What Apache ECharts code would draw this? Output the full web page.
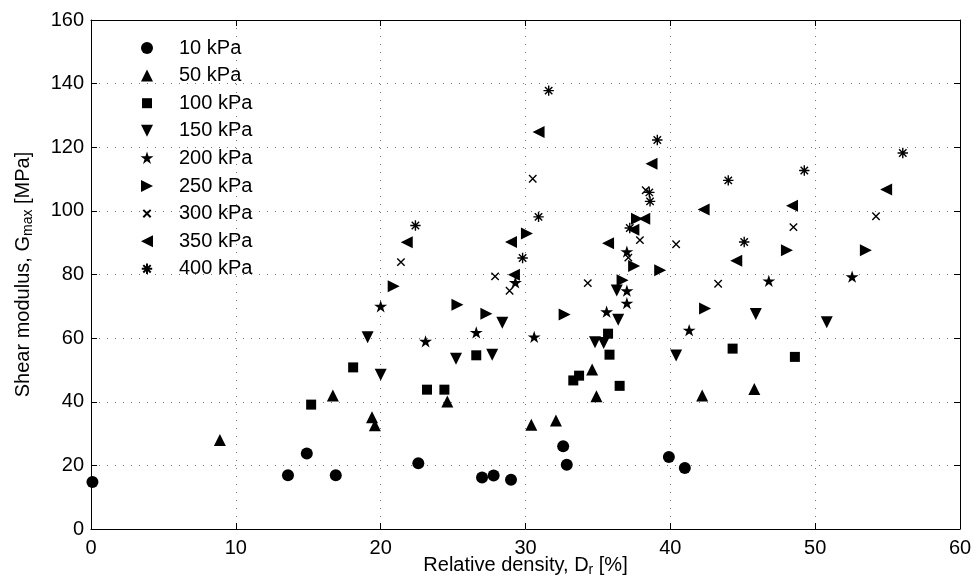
<!DOCTYPE html>
<html><head><meta charset="utf-8">
<script src="https://cdn.jsdelivr.net/npm/echarts/dist/echarts.min.js"></script>
<style>html,body{margin:0;padding:0;background:#fff}#c{width:973px;height:586px}</style>
</head><body><div id="c"></div>
<script>
// ---- data ----
const xRange = [0, 60];
const yRange = [0, 160];
const xStep = 10;
const yStep = 20;
const xTitle = 'Relative density, D{sub|r} [%]';
const yTitle = 'Shear modulus, G{sub|max} [MPa]';
const names = ['10 kPa','50 kPa','100 kPa','150 kPa','200 kPa','250 kPa','300 kPa','350 kPa','400 kPa'];

const p10 = [[0.1,14.8],[13.6,16.9],[14.9,23.7],[16.9,16.9],[22.6,20.7],[27.0,16.2],[27.8,16.8],[29.0,15.5],[32.6,26.0],[32.85,20.2],[39.9,22.6],[41.0,19.2]];
const p50 = [[8.9,28.0],[16.7,42.0],[19.4,35.1],[19.6,32.6],[24.6,40.1],[30.4,32.8],[32.1,34.1],[34.6,50.1],[34.9,41.7],[42.2,42.0],[45.8,44.0]];
const p100 = [[15.2,39.1],[18.1,50.8],[23.2,43.8],[24.4,43.8],[26.6,54.6],[33.3,46.7],[33.7,48.2],[35.7,61.4],[35.8,54.8],[36.5,45.0],[44.3,56.7],[48.6,54.1]];
const p150 = [[19.1,60.3],[20.0,48.5],[25.2,53.5],[27.7,54.8],[28.4,64.8],[34.8,58.7],[35.4,58.5],[36.3,75.0],[36.4,65.8],[40.4,54.5],[45.9,67.6],[50.8,65.0]];
const p200 = [[20.0,69.8],[23.1,58.8],[26.6,61.6],[29.3,77.3],[30.6,60.2],[35.6,68.1],[37.0,74.7],[37.0,70.8],[37.0,87.0],[41.3,62.3],[46.8,77.8],[52.55,79.1]];
const p250 = [[20.9,76.3],[25.3,70.5],[27.3,67.7],[30.1,92.9],[32.7,67.4],[36.7,78.2],[37.5,82.7],[37.7,97.5],[39.3,81.3],[42.4,69.3],[48.05,87.6],[53.5,87.6]];
const p300 = [[21.4,83.9],[27.9,79.4],[28.9,74.9],[30.5,110.1],[34.3,77.3],[37.1,85.3],[37.9,90.8],[38.3,106.5],[40.4,89.5],[43.3,77.1],[48.5,94.9],[54.2,98.3]];
const p350 = [[21.8,90.1],[29.0,90.2],[29.2,79.9],[30.9,124.8],[35.7,89.8],[37.45,94.1],[38.2,97.5],[38.7,114.8],[42.3,100.4],[44.55,84.3],[48.4,101.6],[54.9,106.7]];
const p400 = [[22.4,95.4],[29.8,85.2],[30.9,98.1],[31.6,137.8],[37.2,94.6],[38.55,105.8],[38.6,103.0],[39.1,122.3],[44.0,109.6],[45.1,90.2],[49.25,112.7],[56.05,118.2]];
const allData = [p10,p50,p100,p150,p200,p250,p300,p350,p400];

// ---- marker shapes (drawn in a common 14x14 frame so legend and plot match) ----
const FONT = '"Liberation Sans", Arial, Helvetica, sans-serif';
const FS = 20;
const FRAME = 'M0,0M14,14';
const SHAPES = [
  'M1,7A6,6,0,1,1,13,7A6,6,0,1,1,1,7Z',                 // circle
  'M7,1L13,13L1,13Z',                                    // triangle up
  'M2,2L12,2L12,12L2,12Z',                               // square
  'M1,1L13,1L7,13Z',                                     // triangle down
  'M7,0.2L8.53,4.9L13.47,4.9L9.47,7.8L11,12.5L7,9.6L3,12.5L4.53,7.8L0.53,4.9L5.47,4.9Z', // pentagram
  'M1,1L13,7L1,13Z',                                     // triangle right
  'M3.3,3.3L10.7,10.7M10.7,3.3L3.3,10.7',                // x
  'M13,1L13,13L1,7Z',                                    // triangle left
  'M7,1.8L7,12.2M1.8,7L12.2,7M3.3,3.3L10.7,10.7M10.7,3.3L3.3,10.7' // asterisk
];
const STROKED = [false,false,false,false,false,false,true,false,true];

const series = names.map((n,i) => ({
  name: n,
  type: 'scatter',
  data: allData[i],
  symbol: 'path://' + FRAME + SHAPES[i],
  symbolSize: 14,
  itemStyle: STROKED[i] ? {color:'#000', borderColor:'#000', borderWidth:1.4, opacity:1} : {color:'#000', borderWidth:0, opacity:1},
  emphasis: {disabled:true},
  xAxisIndex: 0, yAxisIndex: 0
}));

const axisCommon = {
  type:'value',
  axisLine:{show:true, onZero:false, lineStyle:{color:'#000', width:1}},
  axisTick:{show:true, inside:true, length:6, lineStyle:{color:'#000', width:1}},
};
const nameStyle = {color:'#000', fontSize:FS, fontFamily:FONT, rich:{sub:{fontSize:14, fontFamily:FONT, color:'#000', padding:[9,0,0,0]}}};

const chart = echarts.init(document.getElementById('c'), null, {renderer:'canvas'});
chart.setOption({
  animation:false,
  backgroundColor:'#fff',
  grid:{left:91, right:13, top:20, bottom:57, containLabel:false, outerBoundsMode:'none'},
  legend:{
    orient:'vertical', left:134, top:33, itemWidth:14, itemHeight:14, itemGap:7.6,
    data:names, selectedMode:false,
    textStyle:{color:'#000', fontSize:FS, fontFamily:FONT, padding:[0,0,0,20]}
  },
  xAxis:[
    Object.assign({}, axisCommon, {
      min:xRange[0], max:xRange[1], interval:xStep, position:'bottom',
      axisLabel:{color:'#000', fontSize:FS, fontFamily:FONT, margin:9},
      splitLine:{show:true, lineStyle:{type:[1,7], color:'#777', width:1}},
      name:xTitle, nameLocation:'middle', nameGap:25, nameMoveOverlap:false,
      nameTextStyle:nameStyle
    }),
    Object.assign({}, axisCommon, {
      min:xRange[0], max:xRange[1], interval:xStep, position:'top',
      axisLabel:{show:false}, splitLine:{show:false}
    })
  ],
  yAxis:[
    Object.assign({}, axisCommon, {
      min:yRange[0], max:yRange[1], interval:yStep, position:'left',
      axisLabel:{color:'#000', fontSize:FS, fontFamily:FONT, margin:7},
      splitLine:{show:true, lineStyle:{type:[1,7], color:'#777', width:1}},
      name:yTitle, nameLocation:'middle', nameGap:56, nameMoveOverlap:false,
      nameTextStyle:nameStyle
    }),
    Object.assign({}, axisCommon, {
      min:yRange[0], max:yRange[1], interval:yStep, position:'right',
      axisLabel:{show:false}, splitLine:{show:false}
    })
  ],
  series: series
});
</script></body></html>
